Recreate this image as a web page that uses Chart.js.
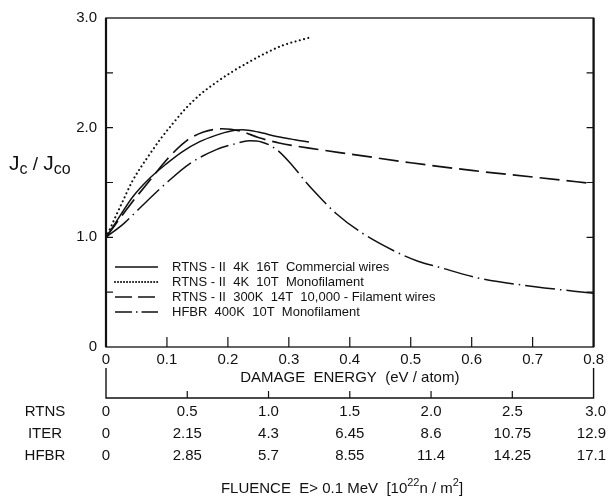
<!DOCTYPE html>
<html>
<head>
<meta charset="utf-8">
<script src="https://cdn.jsdelivr.net/npm/chart.js@4/dist/chart.umd.min.js"></script>
<style>
  html, body { margin: 0; padding: 0; background: #fff; }
  canvas { display: block; }
</style>
</head>
<body>
<canvas id="c" width="608" height="502"></canvas>
<script>
// ---- data ----
const seriesLabels = [
  'RTNS - II  4K  16T  Commercial wires',
  'RTNS - II  4K  10T  Monofilament',
  'RTNS - II  300K  14T  10,000 - Filament wires',
  'HFBR  400K  10T  Monofilament'
];
// damage energy (eV/atom) and Jc/Jco
const commercialX = [0, 0.02, 0.044, 0.07, 0.099, 0.125, 0.153, 0.18, 0.205, 0.224, 0.25, 0.28, 0.31, 0.333];
const commercialY = [1.0, 1.17, 1.37, 1.53, 1.67, 1.78, 1.87, 1.93, 1.97, 1.98, 1.96, 1.92, 1.89, 1.87];
const monoRtnsX = [0, 0.01, 0.025, 0.044, 0.067, 0.09, 0.11, 0.13, 0.154, 0.18, 0.207, 0.235, 0.262, 0.29, 0.333];
const monoRtnsY = [1.0, 1.12, 1.30, 1.52, 1.72, 1.90, 2.04, 2.17, 2.30, 2.41, 2.51, 2.60, 2.68, 2.75, 2.82];
const filamentX = [0, 0.04, 0.072, 0.1, 0.132, 0.16, 0.19, 0.22, 0.25, 0.284, 0.35, 0.4, 0.5, 0.6, 0.7, 0.8];
const filamentY = [1.0, 1.30, 1.52, 1.71, 1.88, 1.96, 1.99, 1.97, 1.91, 1.86, 1.80, 1.76, 1.68, 1.61, 1.55, 1.49];
const hfbrX = [0, 0.03, 0.056, 0.1, 0.137, 0.181, 0.21, 0.235, 0.255, 0.28, 0.305, 0.33, 0.35, 0.377, 0.42, 0.475, 0.513, 0.545, 0.61, 0.704, 0.8];
const hfbrY = [1.0, 1.13, 1.27, 1.50, 1.67, 1.80, 1.85, 1.88, 1.87, 1.80, 1.66, 1.49, 1.37, 1.22, 1.04, 0.87, 0.78, 0.73, 0.63, 0.55, 0.49];

// fluence table (second axis, RTNS units 0..3.0)
const fluenceTicks = [0, 0.5, 1.0, 1.5, 2.0, 2.5, 3.0];
const rowNames = ['RTNS', 'ITER', 'HFBR'];
const rtnsLabels = ['0', '0.5', '1.0', '1.5', '2.0', '2.5', '3.0'];
const iterLabels = ['0', '2.15', '4.3', '6.45', '8.6', '10.75', '12.9'];
const hfbrLabels = ['0', '2.85', '5.7', '8.55', '11.4', '14.25', '17.1'];
const tableRows = [rtnsLabels, iterLabels, hfbrLabels];

const xTitle = 'DAMAGE  ENERGY  (eV / atom)';
// [text, superscript?]
const fluenceTitleParts = [['FLUENCE  E> 0.1 MeV  [10', false], ['22', true], ['n / m', false], ['2', true], [']', false]];

// ---- styles ----
const INK = '#111';
const FONT = '"Liberation Sans", Arial, Helvetica, sans-serif';
const styles = [
  { dash: [], width: 1.5, cap: 'butt', legendDash: [] },
  { dash: [0.01, 4.4], width: 2.1, cap: 'round', legendDash: [0.01, 3] },
  { dash: [20, 7], width: 1.7, cap: 'butt', legendDash: [17, 6] },
  { dash: [30, 5, 1.5, 5], width: 1.5, cap: 'butt', legendDash: [17, 4, 1.5, 4] }
];
const toPts = (xs, ys) => xs.map((x, i) => ({ x, y: ys[i] }));
const seriesData = [
  toPts(commercialX, commercialY),
  toPts(monoRtnsX, monoRtnsY),
  toPts(filamentX, filamentY),
  toPts(hfbrX, hfbrY)
];

Chart.defaults.font.family = FONT;
Chart.defaults.color = INK;

const decor = {
  id: 'decor',
  afterDraw(chart) {
    const { ctx, chartArea: a, scales } = chart;
    const sx = scales.x, sy = scales.y, s2 = scales.x2;
    ctx.save();
    ctx.strokeStyle = INK;
    ctx.fillStyle = INK;
    ctx.setLineDash([]);
    // frame
    ctx.lineWidth = 1.3;
    ctx.strokeRect(a.left, a.top, a.right - a.left, a.bottom - a.top);
    ctx.lineWidth = 2.2;
    ctx.beginPath(); ctx.moveTo(a.left, a.top); ctx.lineTo(a.left, a.bottom); ctx.stroke();
    ctx.beginPath(); ctx.moveTo(a.right, a.top); ctx.lineTo(a.right, a.bottom); ctx.stroke();
    // inward ticks
    ctx.lineWidth = 1.2;
    sy.ticks.forEach(t => {
      if (t.value <= sy.min || t.value >= sy.max) return;
      const py = sy.getPixelForValue(t.value);
      ctx.beginPath();
      ctx.moveTo(a.left, py); ctx.lineTo(a.left + 7, py);
      ctx.moveTo(a.right - 7, py); ctx.lineTo(a.right, py);
      ctx.stroke();
    });
    sx.ticks.forEach(t => {
      if (t.value <= sx.min + 1e-9 || t.value >= sx.max - 1e-9) return;
      const px = sx.getPixelForValue(t.value);
      ctx.beginPath(); ctx.moveTo(px, a.bottom); ctx.lineTo(px, a.bottom - 10); ctx.stroke();
    });

    // legend inside chart area
    ctx.font = '13px ' + FONT;
    ctx.textBaseline = 'middle';
    ctx.textAlign = 'left';
    chart.data.datasets.forEach((ds, i) => {
      const st = styles[i];
      const ly = a.bottom - 80 + i * 15;
      ctx.lineWidth = st.width;
      ctx.lineCap = st.cap;
      ctx.setLineDash(st.legendDash);
      ctx.beginPath(); ctx.moveTo(a.left + 9, ly); ctx.lineTo(a.left + 52, ly); ctx.stroke();
      ctx.setLineDash([]);
      ctx.lineCap = 'butt';
      ctx.fillText(ds.label, a.left + 66, ly);
    });

    // y axis title  Jc / Jco
    ctx.textBaseline = 'alphabetic';
    let tx = 9;
    const by = 170;
    const parts = [
      ['J', 21, 0], ['c', 16, 4], [' / ', 19, 0], ['J', 21, 0], ['co', 16, 4]
    ];
    parts.forEach(([t, sz, dy]) => {
      ctx.font = sz + 'px ' + FONT;
      ctx.fillText(t, tx, by + dy);
      tx += ctx.measureText(t).width;
    });

    // fluence bracket axis
    const lineY = 398;
    const p0 = s2.getPixelForValue(s2.min), p1 = s2.getPixelForValue(s2.max);
    ctx.lineWidth = 1.4;
    ctx.beginPath();
    ctx.moveTo(p0, 368); ctx.lineTo(p0, lineY); ctx.lineTo(p1, lineY); ctx.lineTo(p1, 368);
    ctx.stroke();
    ctx.lineWidth = 1.2;
    fluenceTicks.forEach(v => {
      if (v <= s2.min || v >= s2.max) return;
      const px = s2.getPixelForValue(v);
      ctx.beginPath(); ctx.moveTo(px, lineY); ctx.lineTo(px, lineY - 7); ctx.stroke();
    });
    // table
    ctx.font = '15px ' + FONT;
    ctx.textBaseline = 'middle';
    const rowY = [412, 434, 456];
    tableRows.forEach((labels, r) => {
      ctx.textAlign = 'center';
      ctx.fillText(rowNames[r], 45, rowY[r]);
      labels.forEach((lab, i) => {
        let px = s2.getPixelForValue(fluenceTicks[i]);
        ctx.textAlign = (i === labels.length - 1) ? 'right' : 'center';
        if (i === labels.length - 1) px = 606;
        ctx.fillText(lab, px, rowY[r]);
      });
    });
    // fluence title with superscripts
    ctx.textBaseline = 'alphabetic';
    ctx.textAlign = 'left';
    const widths = fluenceTitleParts.map(([t, sup]) => {
      ctx.font = (sup ? 11 : 15) + 'px ' + FONT;
      return ctx.measureText(t).width;
    });
    let fx = 342 - widths.reduce((s, w) => s + w, 0) / 2;
    fluenceTitleParts.forEach(([t, sup], i) => {
      ctx.font = (sup ? 11 : 15) + 'px ' + FONT;
      ctx.fillText(t, fx, sup ? 486 : 493);
      fx += widths[i];
    });
    ctx.restore();
  }
};

new Chart(document.getElementById('c'), {
  type: 'line',
  data: {
    datasets: seriesData.map((pts, i) => ({
      label: seriesLabels[i],
      data: pts,
      borderColor: INK,
      borderWidth: styles[i].width,
      borderDash: styles[i].dash,
      borderCapStyle: styles[i].cap,
      pointRadius: 0,
      fill: false,
      cubicInterpolationMode: 'monotone'
    }))
  },
  options: {
    responsive: false,
    animation: false,
    devicePixelRatio: 1,
    layout: { padding: { top: 18, right: 13, left: 0, bottom: 115 } },
    plugins: { legend: { display: false }, tooltip: { enabled: false } },
    scales: {
      x: {
        type: 'linear', min: 0, max: 0.8,
        grid: { display: false, drawTicks: false },
        border: { display: false },
        ticks: {
          stepSize: 0.1, padding: 4, color: INK,
          font: { size: 15 },
          callback: v => Math.abs(v) < 1e-9 ? '0' : v.toFixed(1)
        },
        title: { display: true, text: xTitle, color: INK, font: { size: 15 }, padding: { top: 0, bottom: 0 } },
        afterFit: s => { s.height = 40; }
      },
      x2: {
        type: 'linear', axis: 'x', position: 'bottom', min: 0, max: 3.0, display: false
      },
      y: {
        type: 'linear', min: 0, max: 3,
        grid: { display: false, drawTicks: false },
        border: { display: false },
        ticks: {
          stepSize: 0.5, padding: 9, color: INK,
          font: { size: 15 },
          callback: v => Math.abs(v % 1) > 1e-9 ? '' : (v === 0 ? '0' : v.toFixed(1))
        },
        afterFit: s => { s.width = 106; }
      }
    }
  },
  plugins: [decor]
});
</script>
</body>
</html>
